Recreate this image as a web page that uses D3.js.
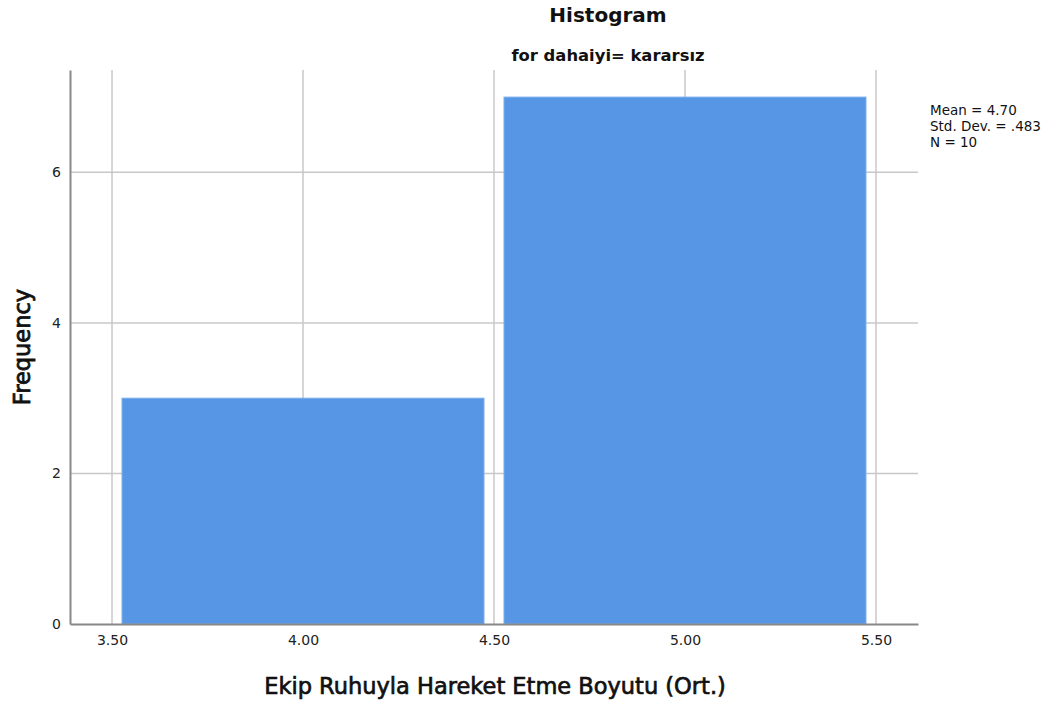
<!DOCTYPE html>
<html><head><meta charset="utf-8">
<script src="https://cdn.jsdelivr.net/npm/d3@7"></script>
<style>body{margin:0;background:#fff}svg{display:block}text{font-family:"DejaVu Sans",sans-serif}</style>
</head><body>
<svg id="c" width="1054" height="704"></svg>
<script>
const binStarts = [3.5, 4.5];
const binEnds = [4.5, 5.5];
const frequencies = [3, 7];
const xTicks = [3.5, 4.0, 4.5, 5.0, 5.5];
const yTicks = [0, 2, 4, 6];
const stats = ["Mean = 4.70", "Std. Dev. = .483", "N = 10"];

const svg = d3.select("#c");
const L = 70, R = 918, T = 70, B = 624;
const x = d3.scaleLinear().domain([3.39, 5.61]).range([L, R]);
const y = d3.scaleLinear().domain([0, 7.36]).range([B, T]);

// gridlines
svg.append("g").selectAll("line").data(xTicks).join("line")
  .attr("x1", d => x(d)).attr("x2", d => x(d)).attr("y1", T).attr("y2", B)
  .attr("stroke", "#c8c8c8").attr("stroke-width", 1.5);
svg.append("g").selectAll("line").data(yTicks.filter(d => d > 0)).join("line")
  .attr("x1", L).attr("x2", R).attr("y1", d => y(d)).attr("y2", d => y(d))
  .attr("stroke", "#c8c8c8").attr("stroke-width", 1.5);

// bars
const inset = 10;
svg.append("g").selectAll("rect").data(frequencies).join("rect")
  .attr("x", (d, i) => x(binStarts[i]) + inset)
  .attr("width", (d, i) => x(binEnds[i]) - x(binStarts[i]) - 2 * inset)
  .attr("y", d => y(d)).attr("height", d => B - y(d))
  .attr("fill", "#5696e4").attr("stroke", "#7aaeec").attr("stroke-width", 1);

// axes
const xAxis = d3.axisBottom(x).tickValues(xTicks).tickFormat(d3.format(".2f")).tickSize(0).tickPadding(11);
const gx = svg.append("g").attr("transform", `translate(0,${B})`).call(xAxis);
gx.select(".domain").attr("stroke", "#888").attr("stroke-width", 2);
gx.selectAll("text").attr("font-size", 14).attr("fill", "#222").attr("font-family", "DejaVu Sans");

const yAxis = d3.axisLeft(y).tickValues(yTicks).tickSize(0).tickPadding(9);
const gy = svg.append("g").attr("transform", `translate(${L},0)`).call(yAxis);
gy.select(".domain").attr("stroke", "#888").attr("stroke-width", 2);
gy.selectAll("text").attr("font-size", 14).attr("fill", "#222").attr("font-family", "DejaVu Sans");

// titles
svg.append("text").attr("x", 608).attr("y", 22).attr("text-anchor", "middle")
  .attr("font-size", 20).attr("font-weight", "bold").attr("fill", "#111").text("Histogram");
svg.append("text").attr("x", 608).attr("y", 61).attr("text-anchor", "middle")
  .attr("font-size", 16.4).attr("font-weight", "bold").attr("fill", "#111").text("for dahaiyi= kararsız");
svg.append("text").attr("x", 495).attr("y", 694).attr("text-anchor", "middle")
  .attr("font-size", 22.5).attr("fill", "#111").attr("stroke", "#111").attr("stroke-width", 0.7)
  .text("Ekip Ruhuyla Hareket Etme Boyutu (Ort.)");
svg.append("text").attr("transform", "translate(30,347) rotate(-90)").attr("text-anchor", "middle")
  .attr("font-size", 22.5).attr("fill", "#111").attr("stroke", "#111").attr("stroke-width", 0.8)
  .text("Frequency");

// stats
svg.append("g").selectAll("text").data(stats).join("text")
  .attr("x", 930).attr("y", (d, i) => 115 + i * 16)
  .attr("font-size", 13.5).attr("fill", "#111").text(d => d);
</script>
</body></html>
